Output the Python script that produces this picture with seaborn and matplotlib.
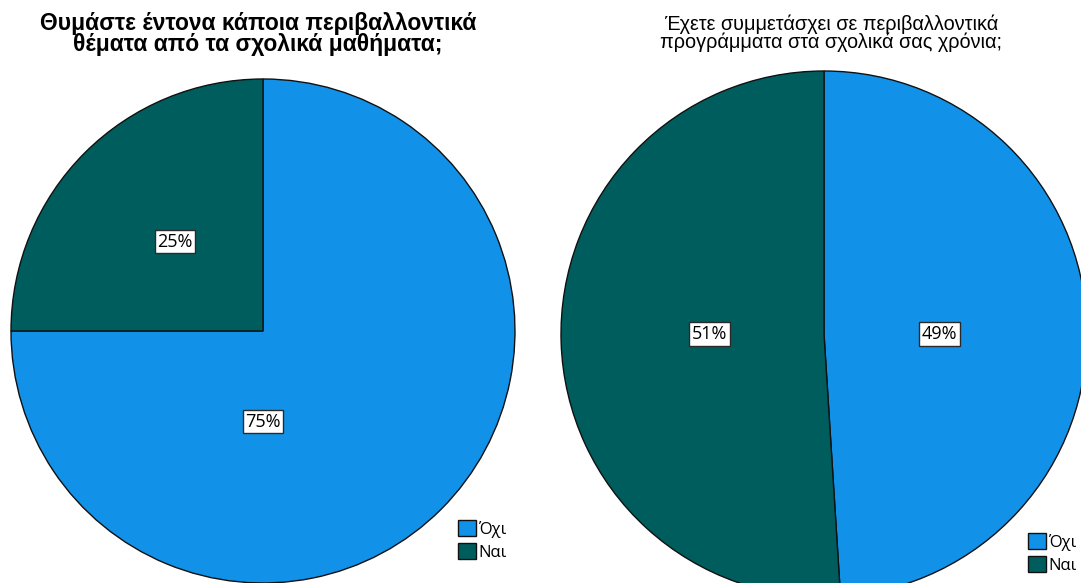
import matplotlib
matplotlib.use("Agg")
import matplotlib.pyplot as plt
import seaborn as sns

# Survey answers (share of respondents, %)
categories = ["Όχι", "Ναι"]
remember_values = [75, 25]
participated_values = [49, 51]

title_left = "Θυμάστε έντονα κάποια περιβαλλοντικά\nθέματα από τα σχολικά μαθήματα;"
title_right = "Έχετε συμμετάσχει σε περιβαλλοντικά\nπρογράμματα στα σχολικά σας χρόνια;"

sns.set_theme(style="white")
plt.rcParams["font.family"] = ["Liberation Sans", "DejaVu Sans"]
plt.rcParams["text.color"] = "black"
colors = sns.color_palette(["#1192e8", "#005d5d"])

fig = plt.figure(figsize=(10.81, 5.83), dpi=100)
W, H = 1081, 583


def axes_for_circle(cx, cy, r):
    """Axes whose [-1, 1] square maps onto a circle given in pixel units."""
    return fig.add_axes([(cx - r) / W, (H - cy - r) / H, 2 * r / W, 2 * r / H])


def draw_pie(ax, values, label_pos):
    wedges, _ = ax.pie(
        values, colors=colors, startangle=90, counterclock=False, radius=1,
        wedgeprops=dict(edgecolor="#111111", linewidth=1.0),
    )
    for w in wedges:
        w.set_clip_on(False)
    for v, (x, y) in zip(values, label_pos):
        ax.text(x, y, f"{v}%", ha="center", va="center", fontsize=13,
                family=["Open Sans", "DejaVu Sans"], color="black",
                bbox=dict(boxstyle="square,pad=0.14", fc="white", ec="#2a2a2a", lw=1))
    ax.set_xlim(-1, 1)
    ax.set_ylim(-1, 1)
    ax.set_aspect("equal")
    ax.axis("off")
    return wedges


ax1 = axes_for_circle(263, 331, 252)
w1 = draw_pie(ax1, remember_values, [(0.0, -0.36), (-0.35, 0.355)])

ax2 = axes_for_circle(824, 334, 263)
w2 = draw_pie(ax2, participated_values, [(0.44, 0.0), (-0.435, 0.0)])

fig.text(258 / W, 1 - 12 / H, title_left, ha="center", va="top",
         fontsize=16.5, fontweight="bold", linespacing=0.9)
fig.text(831 / W, 1 - 15 / H, title_right, ha="center", va="top",
         fontsize=14.3, linespacing=0.88)

legend_kw = dict(frameon=False, handlelength=1.08, handleheight=1.14,
                 handletextpad=0.15, labelspacing=0.3, borderpad=0, borderaxespad=0,
                 loc="upper left",
                 prop=dict(family=["Open Sans", "DejaVu Sans"], size=12))
fig.legend(w1, categories, bbox_to_anchor=(458 / W, 1 - 520 / H), **legend_kw)
fig.legend(w2, categories, bbox_to_anchor=(1028 / W, 1 - 533 / H), **legend_kw)

fig.savefig("out.png", dpi=100)
